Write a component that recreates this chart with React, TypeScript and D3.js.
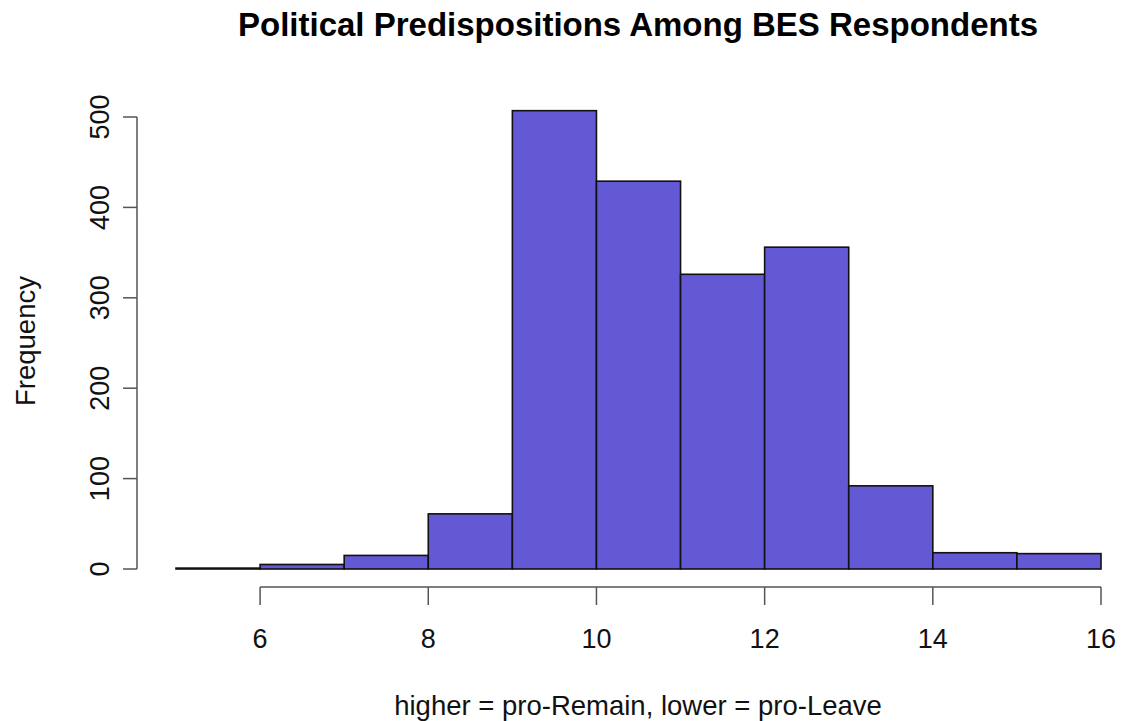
import React from "react";
import * as d3 from "d3";

// histogram bins (lower edge) and counts
const binStarts = [5, 6, 7, 8, 9, 10, 11, 12, 13, 14, 15];
const counts = [1, 5, 15, 61, 507, 429, 326, 356, 92, 18, 17];
const xTicks = [6, 8, 10, 12, 14, 16];
const yTicks = [0, 100, 200, 300, 400, 500];

const title = "Political Predispositions Among BES Respondents";
const xLabel = "higher = pro-Remain, lower = pro-Leave";
const yLabel = "Frequency";

const W = 1122;
const H = 721;
const font = "'Liberation Sans', Arial, Helvetica, sans-serif";

const App = () => {
  const x = d3.scaleLinear().domain([5, 16]).range([176, 1101]);
  const y = d3.scaleLinear().domain([0, 500]).range([569, 117]);

  const axisY = 587; // bottom axis line
  const axisX = 137; // left axis line

  return (
    <svg width={W} height={H} style={{ display: "block", position: "absolute", left: 0, top: 0 }}>
      <rect width={W} height={H} fill="#fff" />
      <text x={638} y={36} textAnchor="middle" fontFamily={font} fontWeight="bold" fontSize={33}>
        {title}
      </text>

      {binStarts.map((b, i) => (
        <rect
          key={b}
          x={x(b)}
          y={y(counts[i])}
          width={x(b + 1) - x(b)}
          height={y(0) - y(counts[i])}
          fill="#6459d4"
          stroke="#111"
          strokeWidth={1.6}
        />
      ))}

      {/* x axis */}
      <g stroke="#555" strokeWidth={1.5} fill="none">
        <line x1={x(xTicks[0])} x2={x(xTicks[xTicks.length - 1])} y1={axisY} y2={axisY} />
        {xTicks.map((t) => (
          <line key={t} x1={x(t)} x2={x(t)} y1={axisY} y2={axisY + 18} />
        ))}
      </g>
      {xTicks.map((t) => (
        <text key={t} x={x(t)} y={648} textAnchor="middle" fontFamily={font} fontSize={27} fill="#111">
          {t}
        </text>
      ))}

      {/* y axis */}
      <g stroke="#555" strokeWidth={1.5} fill="none">
        <line x1={axisX} x2={axisX} y1={y(yTicks[0])} y2={y(yTicks[yTicks.length - 1])} />
        {yTicks.map((t) => (
          <line key={t} x1={axisX - 14} x2={axisX} y1={y(t)} y2={y(t)} />
        ))}
      </g>
      {yTicks.map((t) => (
        <text
          key={t}
          transform={`translate(109,${y(t)}) rotate(-90)`}
          textAnchor="middle"
          fontFamily={font}
          fontSize={27}
          fill="#111"
        >
          {t}
        </text>
      ))}

      <text transform="translate(35,341) rotate(-90)" textAnchor="middle" fontFamily={font} fontSize={27.5} fill="#111">
        {yLabel}
      </text>
      <text x={638} y={715} textAnchor="middle" fontFamily={font} fontSize={27.5} fill="#111">
        {xLabel}
      </text>
    </svg>
  );
};

export default App;
